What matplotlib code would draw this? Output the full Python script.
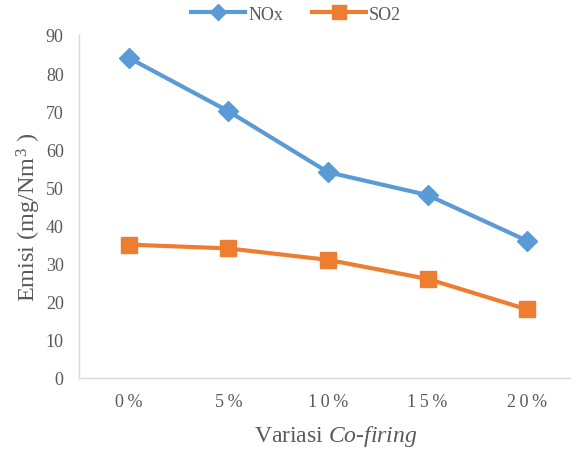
import matplotlib
matplotlib.use('Agg')
import matplotlib.pyplot as plt

plt.rcParams['font.family'] = ['Liberation Serif', 'DejaVu Serif']
plt.rcParams['mathtext.fontset'] = 'custom'
plt.rcParams['mathtext.rm'] = 'Liberation Serif'
plt.rcParams['mathtext.it'] = 'Liberation Serif:italic'

# data
categories = ['0\u2009%', '5\u2009%', '1\u20090\u2009%', '1\u20095\u2009%', '2\u20090\u2009%']
nox = [84, 70, 54, 48, 36]
so2 = [35, 34, 31, 26, 18]
yticks = [0, 10, 20, 30, 40, 50, 60, 70, 80, 90]

blue = '#5B9BD5'
orange = '#ED7D31'
text_color = '#595959'

fig = plt.figure(figsize=(5.71, 4.52), dpi=100)
ax = fig.add_axes([79 / 571, (452 - 379) / 452, 498 / 571, (379 - 36) / 452])

x = range(len(categories))
ax.plot(x, nox, color=blue, lw=3, marker='D', ms=10.5, label='NOx')
ax.plot(x, so2, color=orange, lw=3, marker='s', ms=12, label='SO2')

ax.set_xlim(-0.5, 4.5)
ax.set_ylim(0, 90)
ax.set_yticks(yticks)
ax.set_xticks(list(x))
ax.set_xticklabels(categories)

for s in ['top', 'right']:
    ax.spines[s].set_visible(False)
for s in ['bottom', 'left']:
    ax.spines[s].set_color('#D9D9D9')
    ax.spines[s].set_linewidth(1.0)
ax.tick_params(axis='both', length=0, labelsize=13, colors=text_color)
ax.tick_params(axis='x', pad=11)
ax.tick_params(axis='y', pad=11)

ax.set_ylabel(r'Emisi (mg/Nm$^3$ )', fontsize=17.5, color=text_color)
ax.yaxis.set_label_coords(-(79 - 29) / 498, (379 - 217) / 343)
ax.yaxis.label.set_va('center')
ax.set_xlabel(r'Variasi $\it{Co}$-$\it{firing}$', fontsize=17, color=text_color)
ax.xaxis.set_label_coords((336 - 79) / 498, -(437 - 379) / 343)
ax.xaxis.label.set_va('center')

leg = fig.legend(loc='center', bbox_to_anchor=(296 / 571, 1 - 15 / 452), ncol=2, frameon=False,
                 fontsize=13, handlelength=3.0, columnspacing=1.6, handletextpad=0.15,
                 markerscale=0.8)
for t in leg.get_texts():
    t.set_color(text_color)

fig.savefig('out.png', dpi=100)
